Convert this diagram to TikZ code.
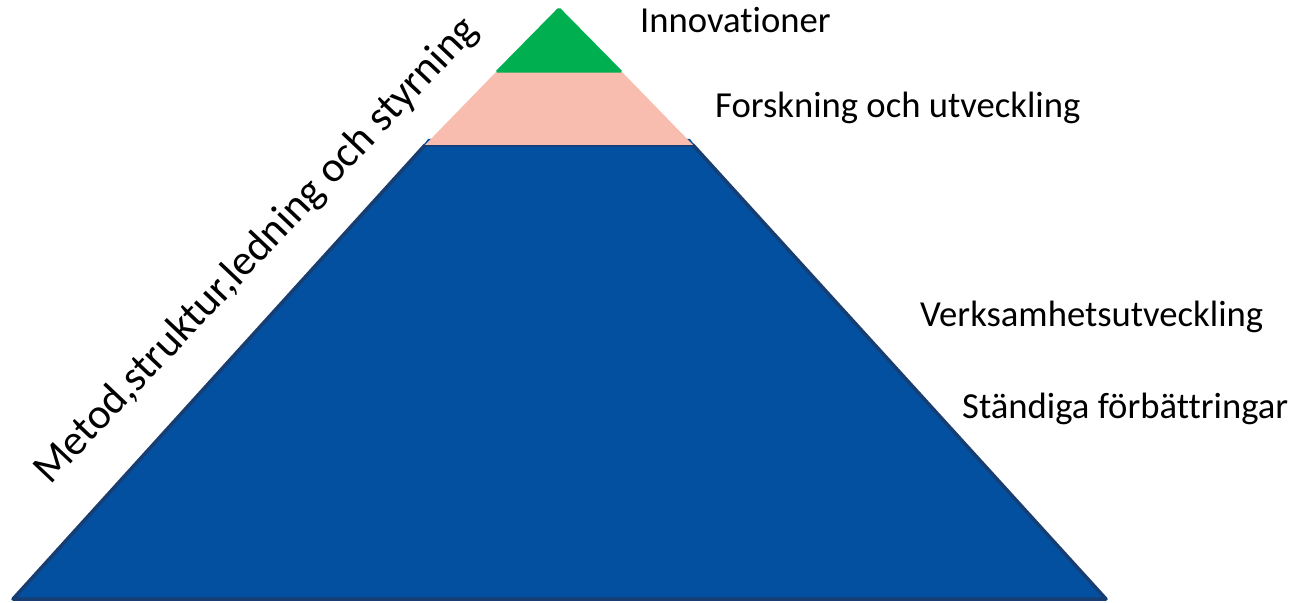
\documentclass[tikz,border=0pt]{standalone}
\usepackage{fontspec}
\setmainfont[Ligatures={NoCommon}]{Carlito}
\definecolor{pgreen}{HTML}{00B050}
\definecolor{ppink}{HTML}{F8BDAE}
\definecolor{pblue}{HTML}{02509F}
\definecolor{pnavy}{HTML}{173E72}
\begin{document}
\begin{tikzpicture}[x=1bp,y=-1bp,
  lbl/.style={font=\fontsize{36.8}{40}\selectfont, inner sep=0pt, text=black},
  biglbl/.style={font=\fontsize{43}{46}\selectfont, inner sep=0pt, text=black}]
\useasboundingbox (0,0) rectangle (1302,603);
% layers
\coordinate (apex) at (559,8);
\coordinate (gl) at (496,72);
\coordinate (gr) at (622,72);
\coordinate (pl) at (425,145);
\coordinate (pr) at (693,145);
\coordinate (bl) at (13,599);
\coordinate (br) at (1106,599);
\fill[pblue, draw=pnavy, line width=3.5bp, line join=round] (pl) -- (bl) -- (br) -- (pr) -- cycle;
\fill[pblue] ([yshift=2bp]pl) -- ([yshift=2bp]pr) -- ([xshift=-3bp,yshift=6bp]pr) -- ([xshift=3bp,yshift=6bp]pl) -- cycle;
\fill[ppink] (gl) -- (pl) -- (pr) -- (gr) -- cycle;
\fill[pgreen, draw=pgreen, line width=1.5bp, rounded corners=1.5bp] (apex) -- (gl) -- (gr) -- cycle;
% labels
\node[lbl, anchor=base west] (inn) at (640,33) {Innovationer};
\node[lbl, anchor=base west] (fou) at (715,118) {Forskning och utveckling};
\node[lbl, anchor=base west] (vu) at (920,326) {Verksamhetsutveckling};
\node[lbl, anchor=base west] (sf) at (962,418) {Ständiga förbättringar};
\node[biglbl, anchor=base west, rotate=46.6] (msl) at (50,486) {Metod,struktur,ledning och styrning};
\end{tikzpicture}
\end{document}
